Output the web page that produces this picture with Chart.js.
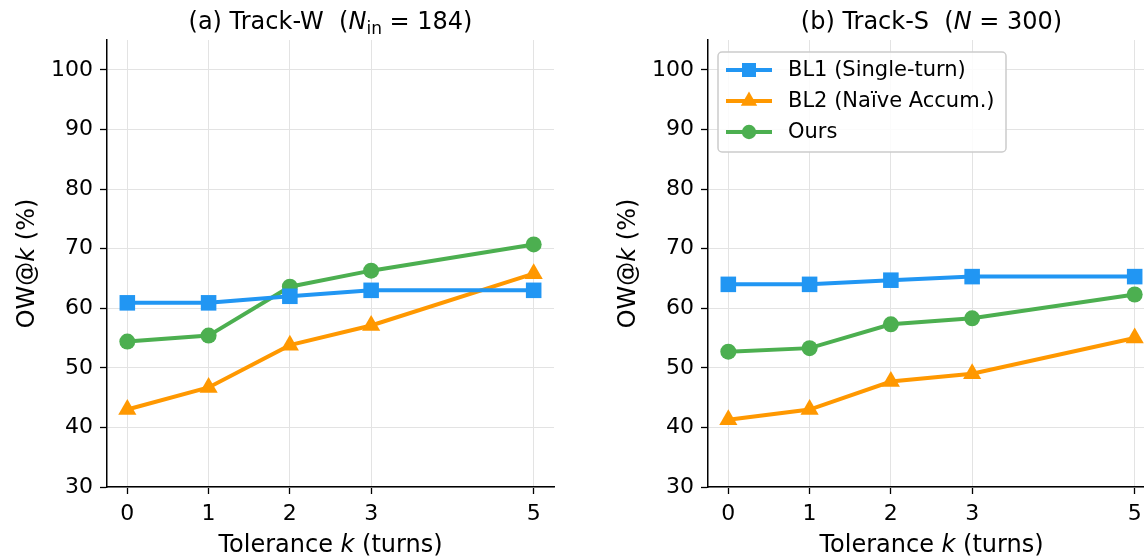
<!DOCTYPE html>
<html>
<head>
<meta charset="utf-8">
<script src="https://cdn.jsdelivr.net/npm/chart.js@4/dist/chart.umd.min.js"></script>
<style>
  html, body { margin: 0; padding: 0; background: #fff; overflow: hidden; }
  body { width: 1144px; height: 558px; position: relative; }
  .panel { position: absolute; top: 0; width: 565px; height: 558px; }
</style>
</head>
<body>
<div class="panel" style="left:0"><canvas id="chartA"></canvas></div>
<div class="panel" style="left:601px"><canvas id="chartB"></canvas></div>
<script>
// x positions (tolerance k) and y ticks
const kValues = [0, 1, 2, 3, 5];
const yTicks = [30, 40, 50, 60, 70, 80, 90, 100];

// (a) Track-W
const trackW_BL1 = [60.9, 60.9, 62.0, 63.0, 63.0];
const trackW_BL2 = [43.0, 46.7, 53.8, 57.1, 65.8];
const trackW_Ours = [54.4, 55.4, 63.6, 66.3, 70.7];

// (b) Track-S
const trackS_BL1 = [64.0, 64.0, 64.7, 65.3, 65.3];
const trackS_BL2 = [41.3, 43.0, 47.7, 49.0, 55.0];
const trackS_Ours = [52.7, 53.3, 57.3, 58.3, 62.3];

const seriesNames = ['BL1 (Single-turn)', 'BL2 (Naïve Accum.)', 'Ours'];
const seriesColors = ['#2196F3', '#FF9800', '#4CAF50'];
const seriesMarkers = ['rect', 'triangle', 'circle'];
const markerRadius = [11, 10.5, 8];

const FONT = '"DejaVu Sans", sans-serif';

function drawRich(ctx, parts, x, y) {
  // parts: [{t, size, italic, dy}] drawn centered on x at baseline y
  let total = 0;
  parts.forEach(p => {
    ctx.font = (p.italic ? 'italic ' : '') + p.size + 'px ' + FONT;
    p.w = ctx.measureText(p.t).width;
    total += p.w;
  });
  let cx = x - total / 2;
  ctx.textAlign = 'left';
  ctx.textBaseline = 'alphabetic';
  ctx.fillStyle = '#000';
  parts.forEach(p => {
    ctx.font = (p.italic ? 'italic ' : '') + p.size + 'px ' + FONT;
    ctx.fillText(p.t, cx, y + (p.dy || 0));
    cx += p.w;
  });
}

function drawMarker(ctx, style, r, x, y, color) {
  ctx.fillStyle = color;
  ctx.beginPath();
  if (style === 'rect') {
    const s = r * Math.SQRT1_2;
    ctx.rect(x - s, y - s, 2 * s, 2 * s);
  } else if (style === 'triangle') {
    ctx.moveTo(x, y - r);
    ctx.lineTo(x + r * Math.sin(Math.PI * 2 / 3), y + r * 0.5);
    ctx.lineTo(x - r * Math.sin(Math.PI * 2 / 3), y + r * 0.5);
    ctx.closePath();
  } else {
    ctx.arc(x, y, r, 0, Math.PI * 2);
  }
  ctx.fill();
}

function makePanel(id, titleParts, values, showLegend) {
  const datasets = values.map((vals, i) => ({
    label: seriesNames[i],
    data: kValues.map((k, j) => ({ x: k, y: vals[j] })),
    borderColor: seriesColors[i],
    backgroundColor: seriesColors[i],
    borderWidth: 4,
    pointStyle: seriesMarkers[i],
    pointRadius: markerRadius[i],
    pointBorderWidth: 0,
    pointHoverRadius: markerRadius[i],
    tension: 0
  }));

  const decorations = {
    id: 'decorations',
    afterDraw(chart) {
      const ctx = chart.ctx;
      const a = chart.chartArea;
      ctx.save();
      // title
      drawRich(ctx, titleParts, (a.left + a.right) / 2, 29);
      // x axis title
      drawRich(ctx, [
        { t: 'Tolerance ', size: 24 },
        { t: 'k', size: 24, italic: true },
        { t: ' (turns)', size: 24 }
      ], (a.left + a.right) / 2, 552);
      // y axis title
      ctx.save();
      ctx.translate(34, (a.top + a.bottom) / 2);
      ctx.rotate(-Math.PI / 2);
      drawRich(ctx, [
        { t: 'OW@', size: 24 },
        { t: 'k', size: 24, italic: true },
        { t: ' (%)', size: 24 }
      ], 0, 0);
      ctx.restore();

      if (showLegend) {
        const bx = a.left + 10, by = 52, bw = 288, bh = 100;
        ctx.beginPath();
        ctx.roundRect(bx, by, bw, bh, 4);
        ctx.fillStyle = 'rgba(255,255,255,0.85)';
        ctx.fill();
        ctx.lineWidth = 1.5;
        ctx.strokeStyle = '#cccccc';
        ctx.stroke();
        chart.data.datasets.forEach((ds, i) => {
          const ry = 70 + i * 31;
          ctx.beginPath();
          ctx.moveTo(bx + 8, ry);
          ctx.lineTo(bx + 54, ry);
          ctx.lineWidth = 4;
          ctx.strokeStyle = ds.borderColor;
          ctx.stroke();
          drawMarker(ctx, ds.pointStyle, ds.pointRadius * 0.9, bx + 31, ry, ds.borderColor);
          ctx.fillStyle = '#000';
          ctx.font = '21px ' + FONT;
          ctx.textAlign = 'left';
          ctx.textBaseline = 'middle';
          ctx.fillText(ds.label, bx + 70, ry + 1);
        });
      }
      ctx.restore();
    }
  };

  new Chart(document.getElementById(id), {
    type: 'line',
    data: { datasets },
    plugins: [decorations],
    options: {
      responsive: true,
      maintainAspectRatio: false,
      animation: false,
      layout: { padding: { top: 40, right: 7, left: 0, bottom: 0 } },
      plugins: {
        legend: { display: false },
        title: { display: false },
        tooltip: { enabled: false }
      },
      scales: {
        x: {
          type: 'linear',
          min: -0.25,
          max: 5.25,
          afterBuildTicks: axis => { axis.ticks = kValues.map(v => ({ value: v })); },
          afterFit: scale => { scale.height = 71; },
          ticks: {
            font: { family: FONT, size: 22 },
            color: '#000',
            padding: 7
          },
          grid: {
            color: '#e3e3e3',
            lineWidth: 1,
            tickColor: '#000',
            tickLength: 7,
            tickWidth: 1.3
          },
          border: { color: '#000', width: 1.5 }
        },
        y: {
          min: 30,
          max: 105,
          afterBuildTicks: axis => { axis.ticks = yTicks.map(v => ({ value: v })); },
          afterFit: scale => { scale.width = 107; },
          ticks: {
            font: { family: FONT, size: 22 },
            color: '#000',
            padding: 7
          },
          grid: {
            color: '#e3e3e3',
            lineWidth: 1,
            tickColor: '#000',
            tickLength: 7,
            tickWidth: 1.3
          },
          border: { color: '#000', width: 1.5 }
        }
      }
    }
  });
}

makePanel('chartA', [
  { t: '(a) Track-W  (', size: 24 },
  { t: 'N', size: 24, italic: true },
  { t: 'in', size: 17, dy: 5 },
  { t: ' = 184)', size: 24 }
], [trackW_BL1, trackW_BL2, trackW_Ours], false);

makePanel('chartB', [
  { t: '(b) Track-S  (', size: 24 },
  { t: 'N', size: 24, italic: true },
  { t: ' = 300)', size: 24 }
], [trackS_BL1, trackS_BL2, trackS_Ours], true);
</script>
</body>
</html>
